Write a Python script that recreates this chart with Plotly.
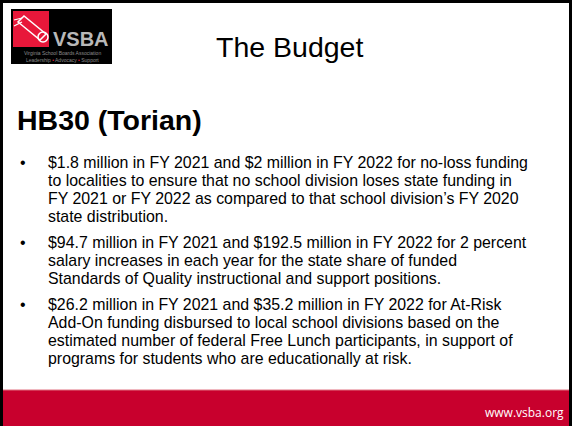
import plotly.graph_objs as go

W, H = 572, 426

slide_title = "The Budget"
heading = "HB30 (Torian)"
footer_url = "www.vsba.org"
logo_name = "VSBA"
logo_sub1 = "Virginia School Boards Association"
logo_sub2 = "Leadership <span style='color:#E8173A'>•</span> Advocacy <span style='color:#E8173A'>•</span> Support"

bullet_1 = ["$1.8 million in FY 2021 and $2 million in FY 2022 for no-loss funding",
            "to localities to ensure that no school division loses state funding in",
            "FY 2021 or FY 2022 as compared to that school division\u2019s FY 2020",
            "state distribution."]
bullet_2 = ["$94.7 million in FY 2021 and $192.5 million in FY 2022 for 2 percent",
            "salary increases in each year for the state share of funded",
            "Standards of Quality instructional and support positions."]
bullet_3 = ["$26.2 million in FY 2021 and $35.2 million in FY 2022 for At-Risk",
            "Add-On funding disbursed to local school divisions based on the",
            "estimated number of federal Free Lunch participants, in support of",
            "programs for students who are educationally at risk."]
bullets = [bullet_1, bullet_2, bullet_3]

RED = "#C8002D"
FONT = "Liberation Sans, Arial, sans-serif"

fig = go.Figure()

shapes = []
# footer bar
shapes.append(dict(type="rect", x0=0, x1=W, y0=390, y1=H, fillcolor=RED, line_width=0, layer="below"))
shapes.append(dict(type="line", x0=0, x1=W, y0=390, y1=390, line=dict(color="#E07080", width=1)))
# logo
shapes.append(dict(type="rect", x0=11, x1=112, y0=9, y1=64, fillcolor="black", line_width=0))
shapes.append(dict(type="rect", x0=13, x1=49, y0=11, y1=47, fillcolor="#E8173A", line_width=0))
# diploma scroll
shapes.append(dict(type="path", path="M 18 22 L 40 40 L 46 34 L 24 16 Z",
                   line=dict(color="white", width=1.5), fillcolor="rgba(0,0,0,0)"))
shapes.append(dict(type="circle", x0=38, x1=48, y0=32, y1=42, line=dict(color="white", width=1.5)))
shapes.append(dict(type="path", path="M 14 20 L 22 18 M 14 26 L 22 22",
                   line=dict(color="white", width=1.2)))
# slide border
for x0, x1, y0, y1 in [(0, W, 0, 3), (0, 3, 0, H), (W - 3, W, 0, H)]:
    shapes.append(dict(type="rect", x0=x0, x1=x1, y0=y0, y1=y1, fillcolor="black", line_width=0))

ann = []
ann.append(dict(x=289, y=47, text=slide_title, xanchor="center", yanchor="middle",
                font=dict(family=FONT, size=28.5, color="black")))
ann.append(dict(x=15, y=120, text="<b>" + heading + "</b>", xanchor="left", yanchor="middle",
                font=dict(family=FONT, size=28.5, color="black")))
ann.append(dict(x=51, y=39, text="<b>" + logo_name + "</b>", xanchor="left", yanchor="middle",
                font=dict(family=FONT, size=20, color="#B8B8B8")))
ann.append(dict(x=62, y=53, text=logo_sub1, xanchor="center", yanchor="middle",
                font=dict(family=FONT, size=5, color="#8C8C8C")))
ann.append(dict(x=62, y=60, text=logo_sub2, xanchor="center", yanchor="middle",
                font=dict(family=FONT, size=5, color="#8C8C8C")))
ann.append(dict(x=566, y=412, text=footer_url, xanchor="right", yanchor="middle",
                font=dict(family="Open Sans, sans-serif", size=12, color="white")))

y = 162
pitch = 18
for lines in bullets:
    ann.append(dict(x=18, y=y, text="•", xanchor="left", yanchor="middle",
                    font=dict(family=FONT, size=16, color="black")))
    for line in lines:
        ann.append(dict(x=46, y=y, text=line, xanchor="left", yanchor="middle",
                        font=dict(family=FONT, size=15.9, color="black")))
        y += pitch
    y += 8

for a in ann:
    a.update(xref="x", yref="y", showarrow=False)

fig.update_layout(
    width=W, height=H,
    margin=dict(l=0, r=0, t=0, b=0),
    paper_bgcolor="white", plot_bgcolor="white",
    shapes=shapes, annotations=ann,
    xaxis=dict(range=[0, W], visible=False, fixedrange=True),
    yaxis=dict(range=[H, 0], visible=False, fixedrange=True),
    showlegend=False,
)
fig.write_html("out.html", config={"displayModeBar": False},
               post_script="document.body.style.margin='0';document.body.style.overflow='hidden';")
